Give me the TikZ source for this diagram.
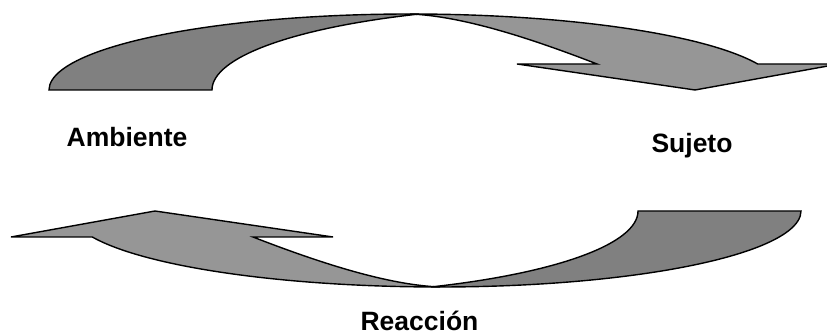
\documentclass[tikz,border=0pt]{standalone}
\usepackage{fontspec}
\setmainfont{Liberation Sans}
\definecolor{lightgr}{RGB}{150,150,150}
\definecolor{darkgr}{RGB}{128,128,128}
\newcommand{\curvedarrowshape}{%
  % front (light) part: arrow head and shaft
  \filldraw[lightpart] (695,246) -- (517,272) -- (597,272)
    .. controls (530,298) and (462,320) .. (410,322)
    arc[start angle=90, end angle=20, x radius=370, y radius=76]
    -- (839,272) -- cycle;
  % back (dark) part: base of the band
  \filldraw[darkpart] (49,246)
    arc[start angle=180, end angle=88.57, x radius=361, y radius=76]
    arc[start angle=115.25, end angle=180, x radius=361, y radius=84]
    -- cycle;
}
\begin{document}
\begin{tikzpicture}[x=1pt,y=1pt,
  lightpart/.style={fill=lightgr, draw=black, line width=1.4pt},
  darkpart/.style={fill=darkgr, draw=black, line width=1.4pt},
  lbl/.style={font=\bfseries\fontsize{26.5}{31}\selectfont, anchor=base, inner sep=0pt}]
\useasboundingbox (0,0) rectangle (827,336);
\clip (0,0) rectangle (827,336);
\begin{scope}
  \curvedarrowshape
\end{scope}
\begin{scope}[rotate around={180:(425,185.5)}]
  \curvedarrowshape
\end{scope}
\node[lbl] (ambiente) at (127,189.3) {Ambiente};
\node[lbl] (sujeto) at (692,183.7) {Sujeto};
\node[lbl] (reaccion) at (419.5,5) {Reacción};
\end{tikzpicture}
\end{document}
